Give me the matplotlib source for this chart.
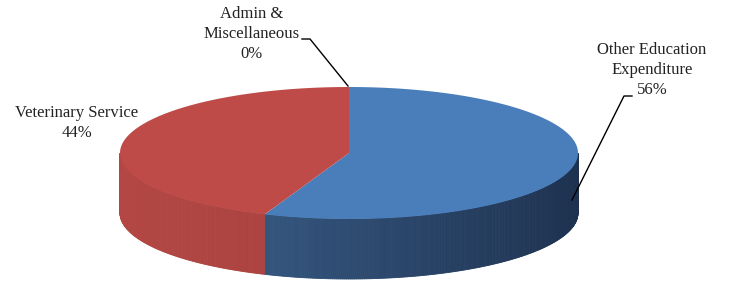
import numpy as np
import matplotlib.pyplot as plt
from matplotlib.colors import to_rgb

labels = ["Other Education\nExpenditure", "Admin &\nMiscellaneous", "Veterinary Service"]
shares = [56, 0, 44]
top_colors = ["#4A7EBB", "#4F81BD", "#BE4B48"]
side_left = ["#3D6592", "#3D6592", "#B34744"]
side_right = ["#1E3250", "#1E3250", "#9B3936"]

# pie geometry in pixels (y down)
cx, cy, rx, ry, depth = 349, 153, 229, 66, 60


def pt(theta, dy=0):
    # theta in degrees, clockwise from 12 o'clock
    t = np.radians(theta)
    return cx + rx * np.sin(t), cy - ry * np.cos(t) + dy


def mix(c1, c2, f):
    a, b = np.array(to_rgb(c1)), np.array(to_rgb(c2))
    return a + (b - a) * f


fig = plt.figure(figsize=(7.29, 2.83), dpi=100)
ax = fig.add_axes([0, 0, 1, 1])
ax.set_xlim(0, 729)
ax.set_ylim(283, 0)
ax.axis("off")

total = sum(shares)
starts = np.cumsum([0] + shares[:-1]) / total * 360
ends = np.cumsum(shares) / total * 360

# side walls (front half: theta 90..270)
for i in range(len(shares)):
    a0, a1 = max(starts[i], 90), min(ends[i], 270)
    if a1 <= a0:
        continue
    steps = np.linspace(a0, a1, int((a1 - a0) * 2) + 2)
    for s0, s1 in zip(steps[:-1], steps[1:]):
        x0, y0 = pt(s0)
        x1, y1 = pt(s1)
        f = np.clip((cx + rx - (x0 + x1) / 2) / (2 * rx), 0, 1)
        col = mix(side_right[i], side_left[i], f)
        ax.fill([x0, x1, x1, x0], [y0, y1, y1 + depth, y0 + depth],
                color=col, lw=0.6, ec=col)

# top faces
for i in range(len(shares)):
    if shares[i] == 0:
        continue
    th = np.linspace(starts[i], ends[i], 200)
    xs, ys = pt(th)
    ax.fill(np.r_[cx, xs], np.r_[cy, ys], color=top_colors[i], lw=0)

font = dict(family="Liberation Serif", fontsize=12, color="#222222",
            ha="center", va="center", linespacing=1.3)

ax.text(652, 70, labels[0] + "\n%d%%" % shares[0], **font)
ax.text(252, 34, labels[1] + "\n%d%%" % shares[1], **font)
ax.text(77, 123, labels[2] + "\n%d%%" % shares[2], **font)

# leader lines
ax.plot([632, 624, 572], [96, 96, 200], color="black", lw=1)
ax.plot([302, 310, 348], [39, 39, 86], color="black", lw=1)

fig.savefig("out.png", dpi=100)
